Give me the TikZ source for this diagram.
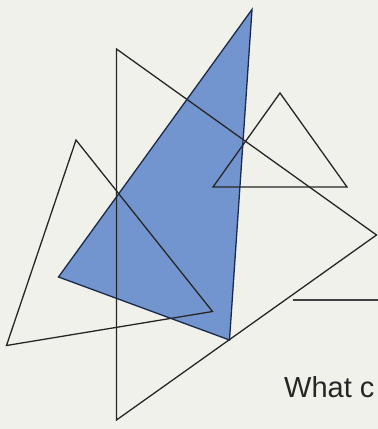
\documentclass[tikz,border=0pt]{standalone}
\usepackage{fontspec}
\setmainfont{Liberation Sans}
\definecolor{bg}{HTML}{F1F1EB}
\definecolor{bluefill}{HTML}{7395CF}
\definecolor{blueline}{HTML}{1A2A4A}
\tikzset{tri/.style={draw=black!85, line width=1.3pt, line join=miter}}
\begin{document}
\begin{tikzpicture}[x=1pt,y=-1pt]
\useasboundingbox (0,0) rectangle (378,429);
\clip (0,0) rectangle (378,429);
\fill[bg] (0,0) rectangle (378,429);
% blue triangle
\coordinate (b1) at (252,9.5);
\coordinate (b2) at (58.5,277);
\coordinate (b3) at (229.5,340);
\fill[bluefill] (b1) -- (b2) -- (b3) -- cycle;
% large triangle
\coordinate (l1) at (116.5,49);
\coordinate (l2) at (376.5,235);
\coordinate (l3) at (116.5,420);
\draw[tri] (l1) -- (l2) -- (l3) -- cycle;
% left triangle
\coordinate (t1) at (76,140);
\coordinate (t2) at (212.5,311.5);
\coordinate (t3) at (6.5,345.5);
\draw[tri] (t1) -- (t2) -- (t3) -- cycle;
% small right triangle
\coordinate (s1) at (280,93);
\coordinate (s2) at (347,187);
\coordinate (s3) at (213,187);
\draw[tri] (s1) -- (s2) -- (s3) -- cycle;
% blue outline
\draw[tri, draw=blueline] (b1) -- (b2) -- (b3) -- cycle;
% horizontal line
\coordinate (h1) at (293,300);
\coordinate (h2) at (380,300);
\draw[black!75, line width=1.5pt] (h1) -- (h2);
\node[anchor=base west, inner sep=0pt, font=\fontsize{29}{29}\selectfont, text=black!85] (txt) at (284,397) {What c};
\end{tikzpicture}
\end{document}
